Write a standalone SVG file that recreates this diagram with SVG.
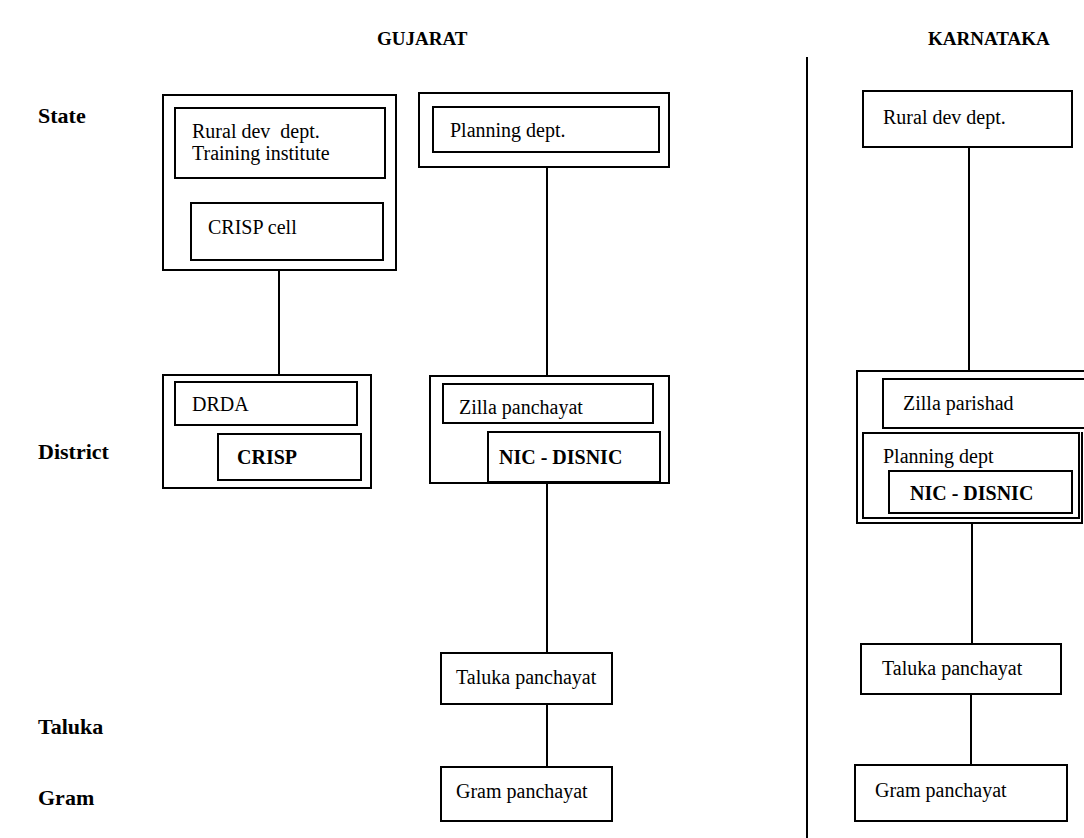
<svg xmlns="http://www.w3.org/2000/svg" width="1084" height="838" viewBox="0 0 1084 838">
<defs>
<style>
.b{fill:#fff;stroke:#000;stroke-width:2}
.t{font-family:"Liberation Serif","Times New Roman",serif;font-size:20px;fill:#000}
.tb{font-family:"Liberation Serif","Times New Roman",serif;font-size:20px;font-weight:bold;fill:#000}
.h{font-family:"Liberation Serif","Times New Roman",serif;font-size:19px;font-weight:bold;fill:#000}
.l{font-family:"Liberation Serif","Times New Roman",serif;font-size:22px;font-weight:bold;fill:#000}
.c{stroke:#000;stroke-width:2;fill:none}
</style>
<clipPath id="zc"><rect x="443" y="384" width="210" height="37"/></clipPath>
</defs>
<rect width="1084" height="838" fill="#fff"/>
<g id="headers">
<text class="h" x="377" y="45">GUJARAT</text>
<text class="h" x="928" y="45">KARNATAKA</text>
<text class="l" x="38" y="123">State</text>
<text class="l" x="38" y="459">District</text>
<text class="l" x="38" y="734">Taluka</text>
<text class="l" x="38" y="805">Gram</text>
</g>
<g id="connectors">
<line class="c" x1="807" y1="57" x2="807" y2="838"/>
<line class="c" x1="279" y1="270" x2="279" y2="375"/>
<line class="c" x1="547" y1="167" x2="547" y2="376"/>
<line class="c" x1="547" y1="483" x2="547" y2="653"/>
<line class="c" x1="547" y1="704" x2="547" y2="767"/>
<line class="c" x1="969" y1="147" x2="969" y2="371"/>
<line class="c" x1="972" y1="523" x2="972" y2="644"/>
<line class="c" x1="971" y1="694" x2="971" y2="765"/>
</g>
<g id="guj-state">
<rect class="b" x="163" y="95" width="233" height="175"/>
<rect class="b" x="175" y="108" width="210" height="70"/>
<text class="t" x="192" y="138" xml:space="preserve">Rural dev  dept.</text>
<text class="t" x="192" y="160">Training institute</text>
<rect class="b" x="191" y="203" width="192" height="57"/>
<text class="t" x="208" y="234">CRISP cell</text>
</g>
<g id="guj-planning">
<rect class="b" x="419" y="93" width="250" height="74"/>
<rect class="b" x="433" y="107" width="226" height="45"/>
<text class="t" x="450" y="137">Planning dept.</text>
</g>
<g id="guj-drda">
<rect class="b" x="163" y="375" width="208" height="113"/>
<rect class="b" x="175" y="382" width="182" height="43"/>
<text class="t" x="192" y="411">DRDA</text>
<rect class="b" x="218" y="434" width="143" height="46"/>
<text class="tb" x="237" y="464">CRISP</text>
</g>
<g id="guj-zilla">
<rect class="b" x="430" y="376" width="239" height="107"/>
<rect class="b" x="443" y="384" width="210" height="39"/>
<text class="t" x="459" y="414" clip-path="url(#zc)">Zilla panchayat</text>
<rect class="b" x="488" y="432" width="172" height="50"/>
<text class="tb" x="499" y="464">NIC - DISNIC</text>
</g>
<g id="guj-taluka">
<rect class="b" x="441" y="653" width="171" height="51"/>
<text class="t" x="456" y="684">Taluka panchayat</text>
</g>
<g id="guj-gram">
<rect class="b" x="441" y="767" width="171" height="54"/>
<text class="t" x="456" y="798">Gram panchayat</text>
</g>
<g id="kar-state">
<rect class="b" x="863" y="91" width="209" height="56"/>
<text class="t" x="883" y="124">Rural dev dept.</text>
</g>
<g id="kar-district">
<path class="c" d="M1090,371 H857 V523 H1082 V432"/>
<rect class="b" x="883" y="379" width="210" height="49"/>
<text class="t" x="903" y="410">Zilla parishad</text>
<rect class="b" x="863" y="433" width="216" height="85"/>
<text class="t" x="883" y="463">Planning dept</text>
<rect class="b" x="889" y="471" width="183" height="42"/>
<text class="tb" x="910" y="500">NIC - DISNIC</text>
</g>
<g id="kar-taluka">
<rect class="b" x="861" y="644" width="200" height="50"/>
<text class="t" x="882" y="675">Taluka panchayat</text>
</g>
<g id="kar-gram">
<rect class="b" x="855" y="765" width="212" height="56"/>
<text class="t" x="875" y="797">Gram panchayat</text>
</g>
</svg>
